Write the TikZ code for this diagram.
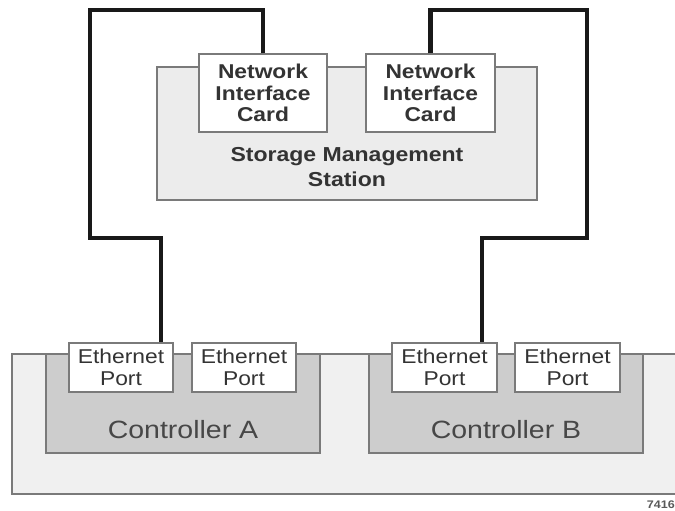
\documentclass[tikz,border=0pt]{standalone}
\usepackage{fontspec}
\setmainfont{Liberation Sans}[FakeStretch=1.14]
\definecolor{bordergray}{HTML}{7A7A7A}
\definecolor{outerfill}{HTML}{F0F0F0}
\definecolor{smsfill}{HTML}{ECECEC}
\definecolor{ctrlfill}{HTML}{CDCDCD}
\definecolor{txt}{HTML}{333333}
\begin{document}
\begin{tikzpicture}[x=1pt,y=-1pt,
  boxbase/.style={draw=bordergray, line width=1.3pt, rectangle, inner sep=0pt, text=txt, align=center},
  nicbox/.style={boxbase, fill=white, minimum height=78pt, font=\fontsize{20}{21.7}\selectfont\bfseries},
  smsbox/.style={boxbase, fill=smsfill, minimum width=380pt, minimum height=133pt},
  ctrlbox/.style={boxbase, fill=ctrlfill, minimum width=274pt, minimum height=99pt},
  portbox/.style={boxbase, fill=white, minimum height=49pt, font=\fontsize{20}{21.7}\selectfont},
  smslabel/.style={text=txt, align=center, font=\fontsize{20.2}{25}\selectfont\bfseries},
  ctrllabel/.style={text=txt!90!white, font=\fontsize{25}{28}\selectfont},
  cable/.style={line width=4.2pt, black!90},
]
\useasboundingbox (0,0) rectangle (675,511);
% outer enclosure (open on the right)
\fill[outerfill] (12,354) rectangle (675,494);
\draw[bordergray, line width=1.3pt] (675,354) -- (12,354) -- (12,494) -- (675,494);

% cable bend points
\coordinate (lt) at (90,10);
\coordinate (lb) at (90,238);
\coordinate (lc) at (161,238);
\coordinate (rt) at (587,10);
\coordinate (rb) at (587,238);
\coordinate (rc) at (482,238);

% controllers
\node[ctrlbox] (ca) at (183,403.5) {};
\node[ctrlbox] (cb) at (506,403.5) {};
\node[ctrllabel] (cal) at (183,430) {Controller A};
\node[ctrllabel] (cbl) at (506,430) {Controller B};

% ethernet ports
\node[portbox, minimum width=104pt] (ea1) at (121,367.5) {Ethernet\\Port};
\node[portbox, minimum width=104pt] (ea2) at (244,367.5) {Ethernet\\Port};
\node[portbox, minimum width=105pt] (eb1) at (444.5,367.5) {Ethernet\\Port};
\node[portbox, minimum width=105pt] (eb2) at (567.5,367.5) {Ethernet\\Port};

% storage management station
\node[smsbox] (sms) at (347,133.5) {};
\node[smslabel] (smsl) at (347,167) {Storage Management\\Station};
\node[nicbox, minimum width=128pt] (nic1) at (263,93) {Network\\Interface\\Card};
\node[nicbox, minimum width=129pt] (nic2) at (430.5,93) {Network\\Interface\\Card};

% cables
\draw[cable, line join=miter] (nic1.north) -- (nic1.north |- lt) -- (lt) -- (lb) -- (lc) -- (lc |- ea1.north);
\draw[cable, line join=miter] (nic2.north) -- (nic2.north |- rt) -- (rt) -- (rb) -- (rc) -- (rc |- eb1.north);

% figure number
\node[text=black!65, font=\fontsize{11}{12}\selectfont\bfseries, anchor=east, inner sep=0pt] (fig) at (675,505) {7416};
\end{tikzpicture}
\end{document}
